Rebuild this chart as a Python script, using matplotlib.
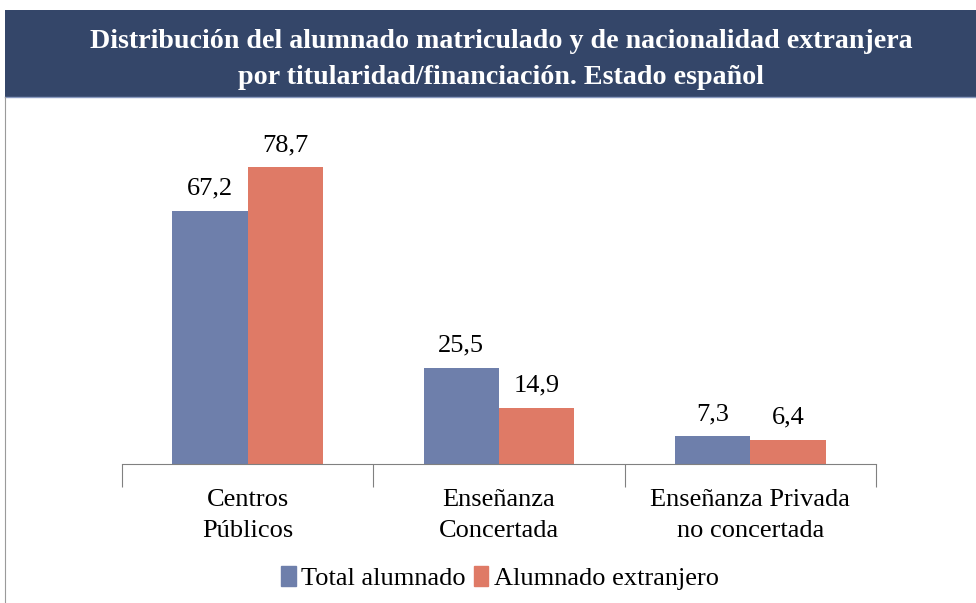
import matplotlib.pyplot as plt
from matplotlib.patches import Rectangle
from matplotlib.lines import Line2D

categories = ["Centros\nPúblicos", "Enseñanza\nConcertada", "Enseñanza Privada\nno concertada"]
total_alumnado = [67.2, 25.5, 7.3]
alumnado_extranjero = [78.7, 14.9, 6.4]
series_names = ["Total alumnado", "Alumnado extranjero"]

BLUE = "#6E7FAB"
RED = "#DF7A66"
NAVY = "#344669"

plt.rcParams["font.family"] = ["Liberation Serif", "DejaVu Serif"]

W, H = 976, 603
fig = plt.figure(figsize=(W / 100, H / 100), dpi=100)

# header band
fig.patches.append(Rectangle((5 / W, 1 - 97 / H), 1 - 5 / W, 87 / H, transform=fig.transFigure,
                             facecolor=NAVY, edgecolor="none", zorder=0))
fig.add_artist(Line2D([5 / W, 1], [1 - 97 / H, 1 - 97 / H], transform=fig.transFigure,
                      color="#8A9BC0", linewidth=1))
fig.add_artist(Line2D([5 / W, 5 / W], [0, 1 - 97 / H], transform=fig.transFigure,
                      color="#9A9A9A", linewidth=0.8))
fig.text(501 / W, 1 - 42 / H, "Distribución del alumnado matriculado y de nacionalidad extranjera",
         color="white", fontsize=20.2, fontweight="bold", ha="center", va="center")
fig.text(501 / W, 1 - 77 / H, "por titularidad/financiación. Estado español",
         color="white", fontsize=20.2, fontweight="bold", ha="center", va="center")

ax = fig.add_axes([122 / W, 1 - 464 / H, 754 / W, 350 / H])
x = list(range(len(categories)))
bw = 0.3
b1 = ax.bar([i - bw / 2 for i in x], total_alumnado, bw, color=BLUE, label=series_names[0])
b2 = ax.bar([i + bw / 2 for i in x], alumnado_extranjero, bw, color=RED, label=series_names[1])

for bars, vals in [(b1, total_alumnado), (b2, alumnado_extranjero)]:
    for r, v in zip(bars, vals):
        ax.annotate(f"{v:.1f}".replace(".", ","), (r.get_x() + r.get_width() / 2, v),
                    xytext=(0, 8), textcoords="offset points", ha="center", va="bottom", fontsize=19)

ax.set_xlim(-0.5, 2.5)
ax.set_ylim(0, 350 / 3.77)
ax.set_yticks([])
for s in ["top", "right", "left"]:
    ax.spines[s].set_visible(False)
ax.spines["bottom"].set_color("#808080")
ax.set_xticks(x)
ax.set_xticklabels(categories, fontsize=19, linespacing=1.55)
ax.tick_params(axis="x", which="major", length=0, pad=18)
ax.set_xticks([-0.5, 0.5, 1.5, 2.5], minor=True)
ax.tick_params(axis="x", which="minor", length=16.5, color="#808080", width=0.8)

handles = [Rectangle((0, 0), 1, 1, color=BLUE), Rectangle((0, 0), 1, 1, color=RED)]
fig.legend(handles, series_names, loc="center", bbox_to_anchor=(500 / W, 1 - 578 / H), ncol=2,
           frameon=False, fontsize=19, handlelength=0.55, handleheight=0.8, handletextpad=0.2,
           columnspacing=0.3)

fig.savefig("out.png", dpi=100)
